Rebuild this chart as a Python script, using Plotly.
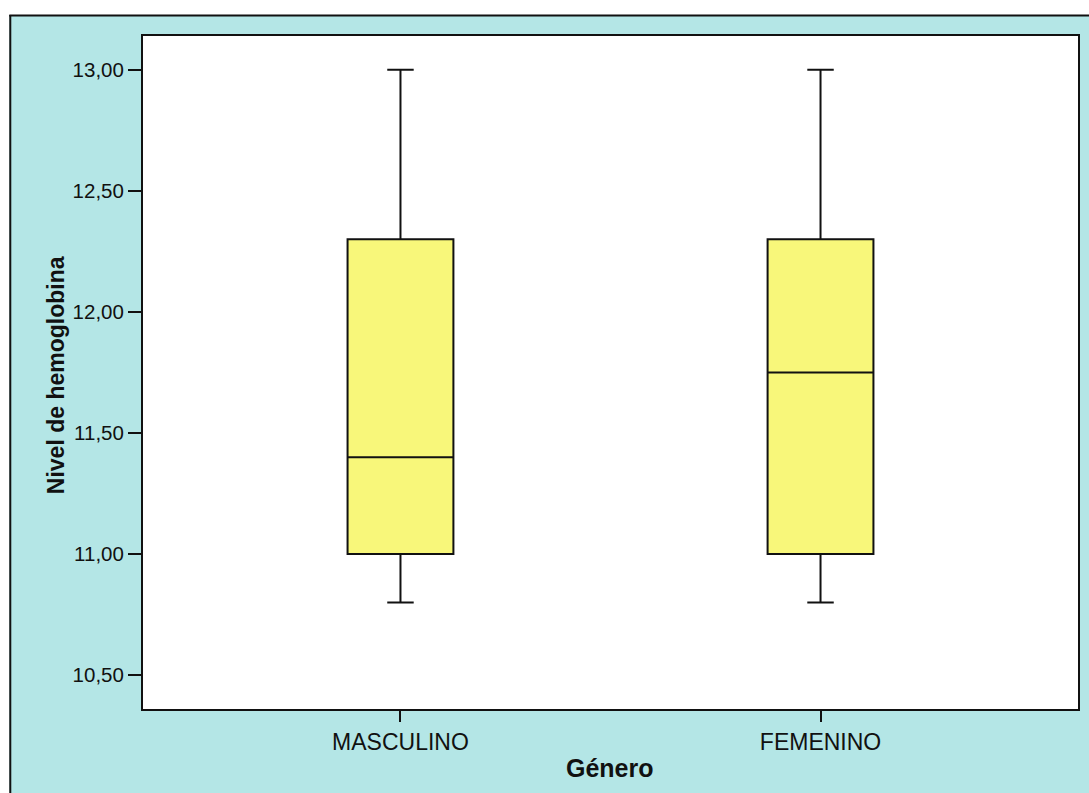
import plotly.graph_objects as go

categories = ["MASCULINO", "FEMENINO"]
lower_whisker = [10.8, 10.8]
q1_values = [11.0, 11.0]
median_values = [11.4, 11.75]
q3_values = [12.3, 12.3]
upper_whisker = [13.0, 13.0]
y_tick_values = [10.5, 11.0, 11.5, 12.0, 12.5, 13.0]

W, H = 1089, 793
L, T, R, B = 143, 36, 9, 84
PW, PH = W - L - R, H - T - B


def px(x):
    return (x - L) / PW


def py(y):
    return (H - B - y) / PH


FONT = "Liberation Sans, Arial, sans-serif"
CYAN = "#B4E6E6"

fig = go.Figure()
fig.add_trace(go.Box(
    x=categories,
    q1=q1_values,
    median=median_values,
    q3=q3_values,
    lowerfence=lower_whisker,
    upperfence=upper_whisker,
    boxpoints=False,
    fillcolor="#F8F77A",
    line=dict(color="#111111", width=2),
    width=0.252,
    whiskerwidth=0.25,
    showlegend=False,
    hoverinfo="skip",
))

fig.update_layout(
    width=W, height=H,
    margin=dict(l=L, r=R, t=T, b=B, pad=0),
    paper_bgcolor=CYAN,
    plot_bgcolor="white",
    separators=",.",
    font=dict(family=FONT, color="#111111"),
    showlegend=False,
)
fig.update_xaxes(
    type="category",
    range=[-0.613, 1.613],
    showline=True, mirror=True, linecolor="#111111", linewidth=2,
    ticks="outside", ticklen=11, tickwidth=1.5, tickcolor="#111111",
    tickfont=dict(size=23, family=FONT, color="#111111"),
    showgrid=False, zeroline=False,
)
fig.update_yaxes(
    range=[10.36, 13.139],
    tickvals=y_tick_values,
    tickformat=".2f",
    showline=True, mirror=True, linecolor="#111111", linewidth=2,
    ticks="outside", ticklen=13, tickwidth=1.5, tickcolor="#111111",
    tickfont=dict(size=20.5, family=FONT, color="#111111"),
    showgrid=False, zeroline=False,
)

# white page area outside the outer frame, and the frame itself
fig.add_shape(type="rect", xref="paper", yref="paper",
              x0=px(-20), x1=px(9), y0=py(H + 20), y1=py(-20),
              fillcolor="white", line=dict(width=0), layer="above")
fig.add_shape(type="rect", xref="paper", yref="paper",
              x0=px(-20), x1=px(W + 20), y0=py(15), y1=py(-20),
              fillcolor="white", line=dict(width=0), layer="above")
fig.add_shape(type="line", xref="paper", yref="paper",
              x0=px(10), x1=px(10), y0=py(15), y1=py(H + 20),
              line=dict(color="#111111", width=2))
fig.add_shape(type="line", xref="paper", yref="paper",
              x0=px(9), x1=px(W + 20), y0=py(15.5), y1=py(15.5),
              line=dict(color="#111111", width=2))

fig.add_annotation(text="<b>Nivel de hemoglobina</b>", xref="paper", yref="paper",
                   x=px(56), y=py(375), textangle=-90, showarrow=False,
                   xanchor="center", yanchor="middle",
                   font=dict(size=23, family=FONT, color="#111111"))
fig.add_annotation(text="<b>Género</b>", xref="paper", yref="paper",
                   x=px(611), y=py(768), showarrow=False,
                   xanchor="center", yanchor="middle",
                   font=dict(size=25, family=FONT, color="#111111"))

fig.write_html(
    "out.html",
    config={"displayModeBar": False},
    post_script="document.body.style.margin='0';document.body.style.overflow='hidden';",
)
